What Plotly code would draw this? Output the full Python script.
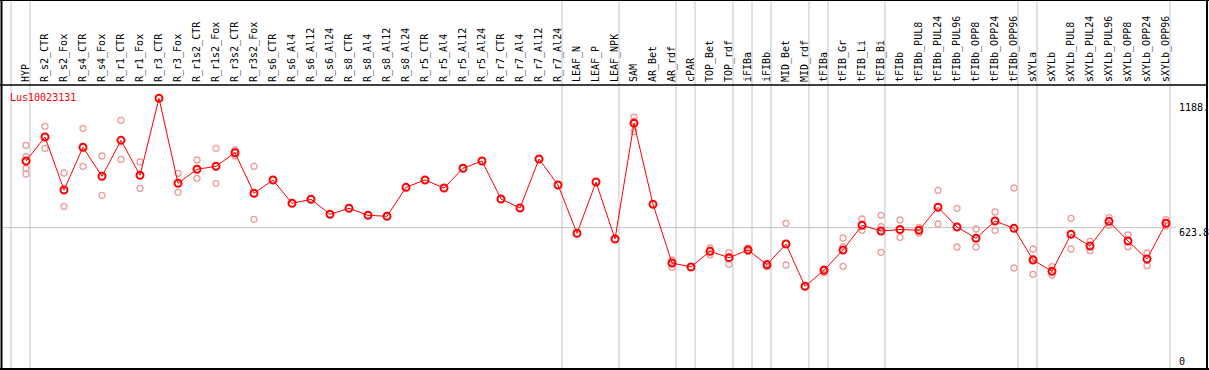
import plotly.graph_objects as go

categories = ["HYP", "R_s2_CTR", "R_s2_Fox", "R_s4_CTR", "R_s4_Fox", "R_r1_CTR", "R_r1_Fox",
              "R_r3_CTR", "R_r3_Fox", "R_r1s2_CTR", "R_r1s2_Fox", "R_r3s2_CTR", "R_r3s2_Fox",
              "R_s6_CTR", "R_s6_Al4", "R_s6_Al12", "R_s6_Al24", "R_s8_CTR", "R_s8_Al4", "R_s8_Al12",
              "R_s8_Al24", "R_r5_CTR", "R_r5_Al4", "R_r5_Al12", "R_r5_Al24", "R_r7_CTR", "R_r7_Al4",
              "R_r7_Al12", "R_r7_Al24", "LEAF_N", "LEAF_P", "LEAF_NPK", "SAM", "AR_Bet", "AR_rdf",
              "cPAR", "TOP_Bet", "TOP_rdf", "iFIBa", "iFIBb", "MID_Bet", "MID_rdf", "tFIBa",
              "tFIB_Gr", "tFIB_Li", "tFIB_Bi", "tFIBb", "tFIBb_PUL8", "tFIBb_PUL24", "tFIBb_PUL96",
              "tFIBb_OPP8", "tFIBb_OPP24", "tFIBb_OPP96", "sXYLa", "sXYLb", "sXYLb_PUL8",
              "sXYLb_PUL24", "sXYLb_PUL96", "sXYLb_OPP8", "sXYLb_OPP24", "sXYLb_OPP96"]

mean_values = [924.6, 1032.9, 793.8, 986.5, 855.6, 1018.0, 860.1, 1207.6, 824.0, 887.2, 900.7,
               962.1, 778.9, 838.9, 733.8, 751.8, 684.1, 711.2, 679.6, 675.1, 805.9, 838.9,
               802.8, 891.7, 924.6, 753.2, 712.5, 933.6, 816.3, 598.4, 829.9, 572.6, 1094.8,
               729.2, 464.3, 446.3, 517.1, 488.3, 523.0, 456.7, 550.1, 359.2, 431.4, 523.0,
               634.5, 608.7, 615.5, 611.9, 715.7, 626.8, 575.8, 653.9, 620.9, 477.9, 426.9,
               593.9, 541.1, 652.5, 563.6, 482.4, 643.5]

# replicate values per category index
replicates = {
    0: [995.5, 944.0, 891.7, 866.0],
    1: [1081.2, 981.9],
    2: [870.5, 720.2],
    3: [1072.2, 900.7],
    4: [947.2, 769.8],
    5: [1108.3, 932.3],
    6: [920.1, 801.4],
    8: [869.1, 783.4],
    9: [929.1, 846.6],
    10: [981.9, 824.0],
    11: [974.3, 947.2],
    12: [900.7, 661.5],
    32: [1122.0, 1105.0, 1057.0],
    34: [477.9, 444.9],
    36: [532.0, 501.8],
    37: [510.8, 458.5],
    38: [532.0, 517.1],
    39: [463.0, 447.6],
    40: [643.5, 455.3],
    42: [437.3, 420.6],
    43: [577.2, 537.9, 449.5],
    44: [662.9, 611.9],
    45: [679.6, 628.2, 512.6],
    46: [658.4, 580.3],
    47: [625.4, 598.4],
    48: [792.4, 640.3],
    49: [711.2, 536.5],
    50: [617.8, 536.5],
    51: [694.5, 611.9],
    52: [802.8, 441.8],
    53: [527.5, 485.6, 413.4],
    54: [447.6, 410.2],
    55: [666.1, 527.5],
    56: [562.3, 519.9],
    57: [668.8, 634.5],
    58: [590.7, 537.9],
    59: [509.5, 452.2],
    60: [659.7, 631.3],
}

group_ends = [-1, 0, 28, 31, 34, 35, 37, 38, 39, 41, 42, 45, 52, 53, 60]
right_tick_values = [1188.0, 623.8, 0.0]
right_tick_labels = ["1188.", "623.8", "0"]
gene_name = "Lus10023131"

# ---- layout constants ----
W, H = 1209, 370
first_px, step_px = 26, 19
plot_top_px = 86
y_px_zero, px_per_unit = 365.9, 0.2216
FONT = "DejaVu Sans Mono"

x_idx = list(range(len(categories)))
x_range = [-first_px / step_px, (W - first_px) / step_px]
y_range = [(y_px_zero - H) / px_per_unit, (y_px_zero - plot_top_px) / px_per_unit]

rep_x, rep_y = [], []
for k, vals in replicates.items():
    for v in vals:
        rep_x.append(k)
        rep_y.append(v)

fig = go.Figure()
fig.add_trace(go.Scatter(x=rep_x, y=rep_y, mode="markers",
                         marker=dict(symbol="circle-open", size=6, color="#f09a9a",
                                     line=dict(width=1.3, color="#f09a9a")),
                         hoverinfo="skip", showlegend=False))
fig.add_trace(go.Scatter(x=x_idx, y=mean_values, mode="lines+markers",
                         line=dict(color="#ff0000", width=1),
                         marker=dict(symbol="circle-open", size=7, color="#ff0000",
                                     line=dict(width=2, color="#ff0000")),
                         showlegend=False))

shapes = []
gray = "#c4c4c4"
for g in group_ends:
    xv = g + 4 / step_px
    shapes.append(dict(type="line", xref="x", yref="paper", x0=xv, x1=xv, y0=0, y1=1,
                       line=dict(color=gray, width=1), layer="below"))
# horizontal grid at middle tick
shapes.append(dict(type="line", xref="paper", yref="y", x0=0, x1=1176 / W,
                   y0=right_tick_values[1], y1=right_tick_values[1],
                   line=dict(color=gray, width=1), layer="below"))
# black frame
blk = dict(color="black", width=2)
shapes += [
    dict(type="line", xref="paper", yref="paper", x0=0, x1=1, y0=1, y1=1, line=blk),
    dict(type="line", xref="paper", yref="paper", x0=1.5 / W, x1=1.5 / W, y0=0, y1=1, line=blk),
    dict(type="line", xref="paper", yref="paper", x0=1207 / W, x1=1207 / W, y0=0, y1=1, line=blk),
    dict(type="line", xref="paper", yref="paper", x0=0, x1=1, y0=1 / H, y1=1 / H, line=blk),
    dict(type="line", xref="paper", yref="paper", x0=0, x1=1207 / W,
         y0=1 - 85 / H, y1=1 - 85 / H, line=dict(color="black", width=1.5)),
]

annotations = []
shifts = [-4.6, -4.6, 4.2]
for v, t, s in zip(right_tick_values, right_tick_labels, shifts):
    annotations.append(dict(x=1177 / W, xref="paper", y=v, yref="y", text=t, showarrow=False,
                            xanchor="left", yanchor="middle", yshift=s,
                            font=dict(family=FONT, size=10, color="black")))
annotations.append(dict(x=8 / W, xref="paper", y=1 - 97.5 / H, yref="paper", text=gene_name,
                        showarrow=False, xanchor="left", yanchor="middle",
                        font=dict(family=FONT, size=10, color="#ff0000")))

fig.update_layout(
    width=W, height=H, margin=dict(l=0, r=0, t=0, b=0),
    paper_bgcolor="white", plot_bgcolor="white",
    xaxis=dict(range=x_range, domain=[0, 1], side="top", tickmode="array",
               tickvals=x_idx, ticktext=categories, tickangle=-90,
               tickfont=dict(family=FONT, size=10, color="black"),
               showgrid=False, zeroline=False, showline=False, ticks="",
               ticklabelstandoff=3),
    yaxis=dict(range=y_range, domain=[0, 1 - plot_top_px / H], showticklabels=False,
               showgrid=False, zeroline=False, showline=False, ticks=""),
    shapes=shapes, annotations=annotations,
)

fig.write_html(
    "out.html",
    config={"displayModeBar": False},
    post_script="document.body.style.margin='0';document.body.style.overflow='hidden';"
                "document.documentElement.style.overflow='hidden';",
)
